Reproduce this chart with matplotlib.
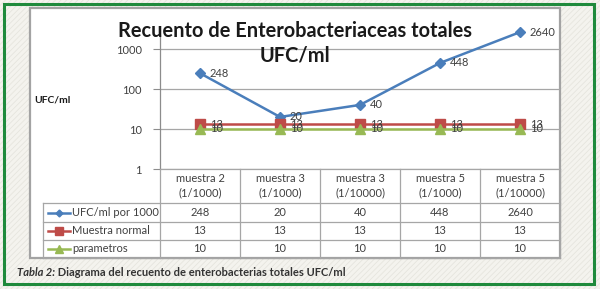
import matplotlib
matplotlib.use('Agg')
import matplotlib.pyplot as plt
import matplotlib.patches as patches
from matplotlib.lines import Line2D
from matplotlib.transforms import blended_transform_factory
import numpy as np

plt.rcParams['font.family'] = ['Lato', 'DejaVu Sans']
plt.rcParams['hatch.color'] = '#e6e5de'
plt.rcParams['hatch.linewidth'] = 0.6

# data
categories = ['muestra 2\n(1/1000)', 'muestra 3\n(1/1000)', 'muestra 3\n(1/10000)',
              'muestra 5\n(1/1000)', 'muestra 5\n(1/10000)']
ufc_por_1000 = [248, 20, 40, 448, 2640]
muestra_normal = [13, 13, 13, 13, 13]
parametros = [10, 10, 10, 10, 10]
series_names = ['UFC/ml por 1000', 'Muestra normal', 'parametros']
y_ticks = [1, 10, 100, 1000]

W, H = 600, 289
fig = plt.figure(figsize=(W / 100, H / 100), dpi=100)

def fx(x):  # pixel -> figure fraction
    return x / W

def fy(y):
    return 1 - y / H

# page background with light texture + green frame
bg = patches.Rectangle((0, 0), 1, 1, transform=fig.transFigure, facecolor='#f4f3ee',
                       edgecolor='#e6e5de', hatch='//////', linewidth=0, zorder=-3)
fig.patches.append(bg)
frame = patches.Rectangle((fx(4), fy(284)), fx(590), 280 / H, transform=fig.transFigure,
                          facecolor='none', edgecolor='#1f8a3c', linewidth=2.2, zorder=5)
fig.patches.append(frame)

# white chart box
box = patches.Rectangle((fx(30), fy(258)), fx(530), 250 / H, transform=fig.transFigure,
                        facecolor='white', edgecolor='#a3a3a3', linewidth=1.6, zorder=-2)
fig.patches.append(box)

# plot area
ax = fig.add_axes([fx(160), fy(169), fx(400), 134 / H])
ax.set_facecolor('none')
ax.set_yscale('log')
ax.set_ylim(1, 10 ** 3.35)
ax.set_xlim(-0.5, len(categories) - 0.5)
x = np.arange(len(categories))

ax.set_yticks(y_ticks)
ax.set_yticklabels([str(t) for t in y_ticks], fontsize=8, color='#404040')
ax.yaxis.set_minor_locator(matplotlib.ticker.NullLocator())
ax.tick_params(axis='y', length=5, color='#8c8c8c', width=0.8, pad=8)
ax.set_xticks([])
for s in ['top', 'right', 'bottom']:
    ax.spines[s].set_visible(False)
ax.spines['left'].set_color('#8c8c8c')
ax.spines['left'].set_linewidth(0.9)
ax.grid(axis='y', color='#a6a6a6', linewidth=0.9)
ax.set_axisbelow(True)

colors = ['#4a7ebb', '#be4b48', '#98b954']
markers = ['D', 's', '^']
msizes = [5, 7, 7]
all_series = [ufc_por_1000, muestra_normal, parametros]
for vals, c, m, ms in zip(all_series, colors, markers, msizes):
    ax.plot(x, vals, color=c, marker=m, markersize=ms, linewidth=1.8, clip_on=False, zorder=3)
    for xi, v in zip(x, vals):
        ax.annotate(str(v), (xi, v), xytext=(7, 0), textcoords='offset points',
                    va='center', ha='left', fontsize=8, color='#404040',
                    annotation_clip=False, zorder=4)

# title and axis label
fig.text(fx(295), fy(31), 'Recuento de Enterobacteriaceas totales', ha='center', va='center',
         fontsize=14.4, fontweight='bold', color='#1a1a1a')
fig.text(fx(295), fy(55), 'UFC/ml', ha='center', va='center',
         fontsize=14.4, fontweight='bold', color='#1a1a1a')
fig.text(fx(34), fy(100), 'UFC/ml', ha='left', va='center', fontsize=7.5,
         fontweight='bold', color='#1a1a1a')

# data table under the plot
grid_c = '#a6a6a6'
rows_y = [169, 203, 222, 240, 258]
col_x = [160 + 80 * i for i in range(len(categories) + 1)]
tf = fig.transFigure
fig.add_artist(Line2D([fx(160), fx(560)], [fy(169), fy(169)], transform=tf, color=grid_c, lw=0.9))
for yy in rows_y[1:]:
    fig.add_artist(Line2D([fx(43), fx(560)], [fy(yy), fy(yy)], transform=tf, color=grid_c, lw=0.9))
for xx in col_x:
    fig.add_artist(Line2D([fx(xx), fx(xx)], [fy(169), fy(258)], transform=tf, color=grid_c, lw=0.9))
fig.add_artist(Line2D([fx(43), fx(43)], [fy(203), fy(258)], transform=tf, color=grid_c, lw=0.9))

bt = blended_transform_factory(ax.transData, tf)
for xi, cat in zip(x, categories):
    fig.text(xi, fy(186), cat, transform=bt, ha='center', va='center', fontsize=8,
             color='#404040', linespacing=1.35)
for r, (vals, name, c, m, ms) in enumerate(zip(all_series, series_names, colors, markers, msizes)):
    yc = fy((rows_y[r + 1] + rows_y[r + 2]) / 2)
    fig.add_artist(Line2D([fx(48), fx(70)], [yc, yc], transform=tf, color=c, lw=1.8))
    fig.add_artist(Line2D([fx(59)], [yc], transform=tf, color=c, marker=m, markersize=ms - 1.5, lw=0))
    fig.text(fx(72), yc, name, ha='left', va='center', fontsize=8, color='#404040')
    for xi, v in zip(x, vals):
        fig.text(xi, yc, str(v), transform=bt, ha='center', va='center', fontsize=8, color='#404040')

# caption
t1 = fig.text(fx(17), fy(273), 'Tabla 2:', ha='left', va='center', fontsize=8,
              fontweight='bold', fontstyle='italic', color='#333333')
fig.add_artist(matplotlib.text.Annotation(
    ' Diagrama del recuento de enterobacterias totales UFC/ml', xy=(1, 0.5), xycoords=t1,
    ha='left', va='center', fontsize=8, fontweight='bold', color='#333333'))

fig.savefig('out.png', dpi=100)
